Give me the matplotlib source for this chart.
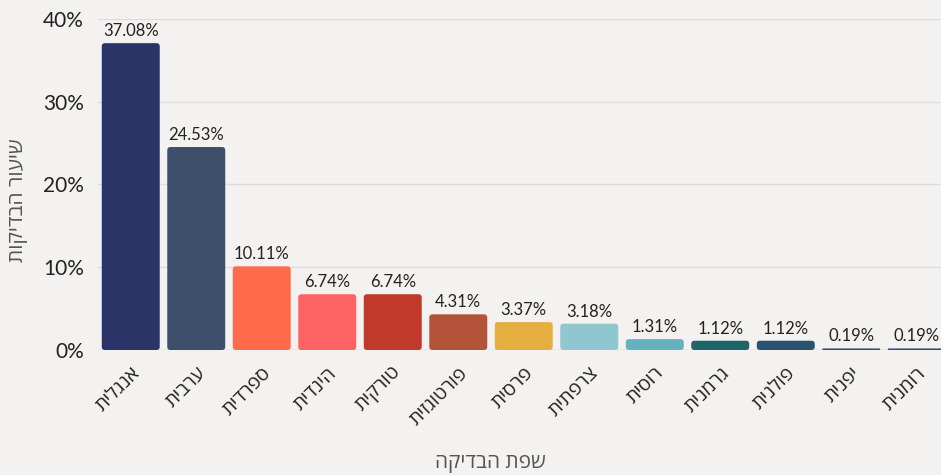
import matplotlib
matplotlib.use('Agg')
import matplotlib.pyplot as plt
from matplotlib.patches import FancyBboxPatch
from matplotlib.ticker import FuncFormatter

# data (Hebrew strings stored in logical order, reversed for display)
languages = ['אנגלית', 'ערבית', 'ספרדית', 'הינדית', 'טורקית', 'פורטוגזית', 'פרסית',
             'צרפתית', 'רוסית', 'גרמנית', 'פולנית', 'יפנית', 'רומנית']
shares = [37.08, 24.53, 10.11, 6.74, 6.74, 4.31, 3.37, 3.18, 1.31, 1.12, 1.12, 0.19, 0.19]
colors = ['#2b3467', '#3d4f6a', '#fe6b4a', '#fe6363', '#c0392b', '#b3543a', '#e5ae41',
          '#90c6d0', '#65b2be', '#1f6567', '#2a5371', '#3b4a7a', '#3b4a7a']
y_ticks = [0, 10, 20, 30, 40]


def rtl(s):
    return s[::-1]


plt.rcParams['font.family'] = ['Lato', 'Open Sans', 'DejaVu Sans']
bg = '#f3f2f0'

fig = plt.figure(figsize=(9.41, 4.75), dpi=100, facecolor=bg)
ax = fig.add_axes([98 / 941, 1 - 350 / 475, 843 / 941, 331 / 475], facecolor=bg)

ax.set_xlim(-0.5, 12.37)
ax.set_ylim(0, 40)

# rounded bars: aspect between y data units and x data units in pixels
aspect = (40 / 331) / (12.87 / 843)
bar_w = 0.885
x = list(range(len(languages)))
for xi, v, c in zip(x, shares, colors):
    r = min(0.05, v / aspect / 2)
    ax.add_patch(FancyBboxPatch((xi - bar_w / 2, 0), bar_w, v,
                                boxstyle=f'round,pad=0,rounding_size={r}',
                                mutation_aspect=aspect, facecolor=c,
                                edgecolor='none', zorder=3))
    ax.text(xi, v + 0.5, f'{v:.2f}%', ha='center', va='bottom', fontsize=12,
            color='#222222', zorder=4)

ax.set_yticks(y_ticks)
ax.yaxis.set_major_formatter(FuncFormatter(lambda v, p: f'{v:.0f}%'))
ax.grid(axis='y', color='#dcdcdc', linewidth=1, zorder=0)
ax.set_axisbelow(True)
for s in ax.spines.values():
    s.set_visible(False)
ax.tick_params(axis='y', length=0, labelsize=15, colors='#222222', pad=10)
ax.tick_params(axis='x', length=0, pad=10)
ax.set_xticks(x)
ax.set_xticklabels([rtl(l) for l in languages], rotation=45, ha='right',
                   rotation_mode='anchor', fontsize=14, color='#222222')
ax.axhline(0, color='#d0d0d0', linewidth=1, zorder=2)

fig.text(490 / 941, 1 - 463 / 475, rtl('שפת הבדיקה'), ha='center', va='center',
         fontsize=15, color='#555555')
fig.text(18 / 941, 1 - 200 / 475, rtl('שיעור הבדיקות'), ha='center', va='center',
         rotation=90, fontsize=15, color='#555555')

fig.savefig('out.png', dpi=100, facecolor=bg)
